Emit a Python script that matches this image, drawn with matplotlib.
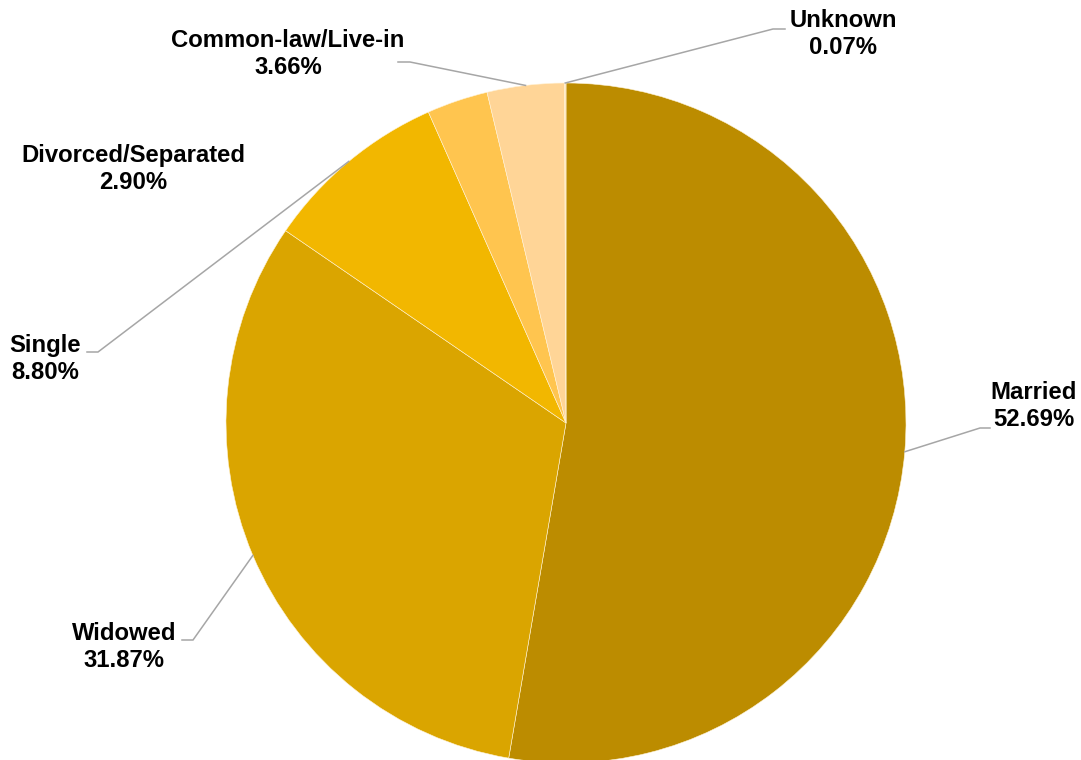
import numpy as np
import matplotlib.pyplot as plt

# marital status breakdown, clockwise from 12 o'clock
categories = ["Married", "Widowed", "Single", "Divorced/Separated",
              "Common-law/Live-in", "Unknown"]
shares = [52.69, 31.87, 8.80, 2.90, 3.66, 0.07]
pct_labels = ["52.69%", "31.87%", "8.80%", "2.90%", "3.66%", "0.07%"]
colors = ["#BC8C00", "#DAA500", "#F2B700", "#FFC54F", "#FFD597", "#FFE3B8"]

W, H = 1081, 760
CX, CY, R = 566, H - 423, 340

# label text centres (pixels from top-left) and elbow points of leader lines
label_pos = {
    "Married": (1034, 406),
    "Widowed": (124, 647),
    "Single": (45, 359),
    "Divorced/Separated": (133, 169),
    "Common-law/Live-in": (288, 54),
    "Unknown": (843, 34),
}
elbows = {
    "Married": ((980, 428), (990, 428)),
    "Widowed": ((193, 640), (182, 640)),
    "Single": ((98, 352), (87, 352)),
    "Common-law/Live-in": ((410, 62), (398, 62)),
    "Unknown": ((773, 29), (785, 29)),
}

plt.rcParams['font.family'] = ['Liberation Sans', 'DejaVu Sans']

fig = plt.figure(figsize=(W / 100, H / 100), dpi=100)
ax = fig.add_axes([0, 0, 1, 1])
ax.set_xlim(0, W)
ax.set_ylim(0, H)
ax.set_aspect('equal')
ax.axis('off')

wedges, _ = ax.pie(shares, colors=colors, startangle=90, counterclock=False,
                   center=(CX, CY), radius=R,
                   wedgeprops=dict(edgecolor='#FFF3D6', linewidth=0.4))
ax.set_xlim(0, W)
ax.set_ylim(0, H)

for w, name, pct in zip(wedges, categories, pct_labels):
    tx, ty = label_pos[name]
    ax.text(tx, H - ty, f"{name}\n{pct}", ha='center', va='center',
            fontsize=17.2, fontweight='bold', color='black', linespacing=1.22)
    if name in elbows:
        mid = np.deg2rad((w.theta1 + w.theta2) / 2)
        px, py = CX + R * np.cos(mid), CY + R * np.sin(mid)
        (ex, ey), (fx, fy) = elbows[name]
        ax.plot([px, ex, fx], [py, H - ey, H - fy], color='#A6A6A6',
                linewidth=1.1, solid_joinstyle='miter')

fig.savefig("out.png", dpi=100)
